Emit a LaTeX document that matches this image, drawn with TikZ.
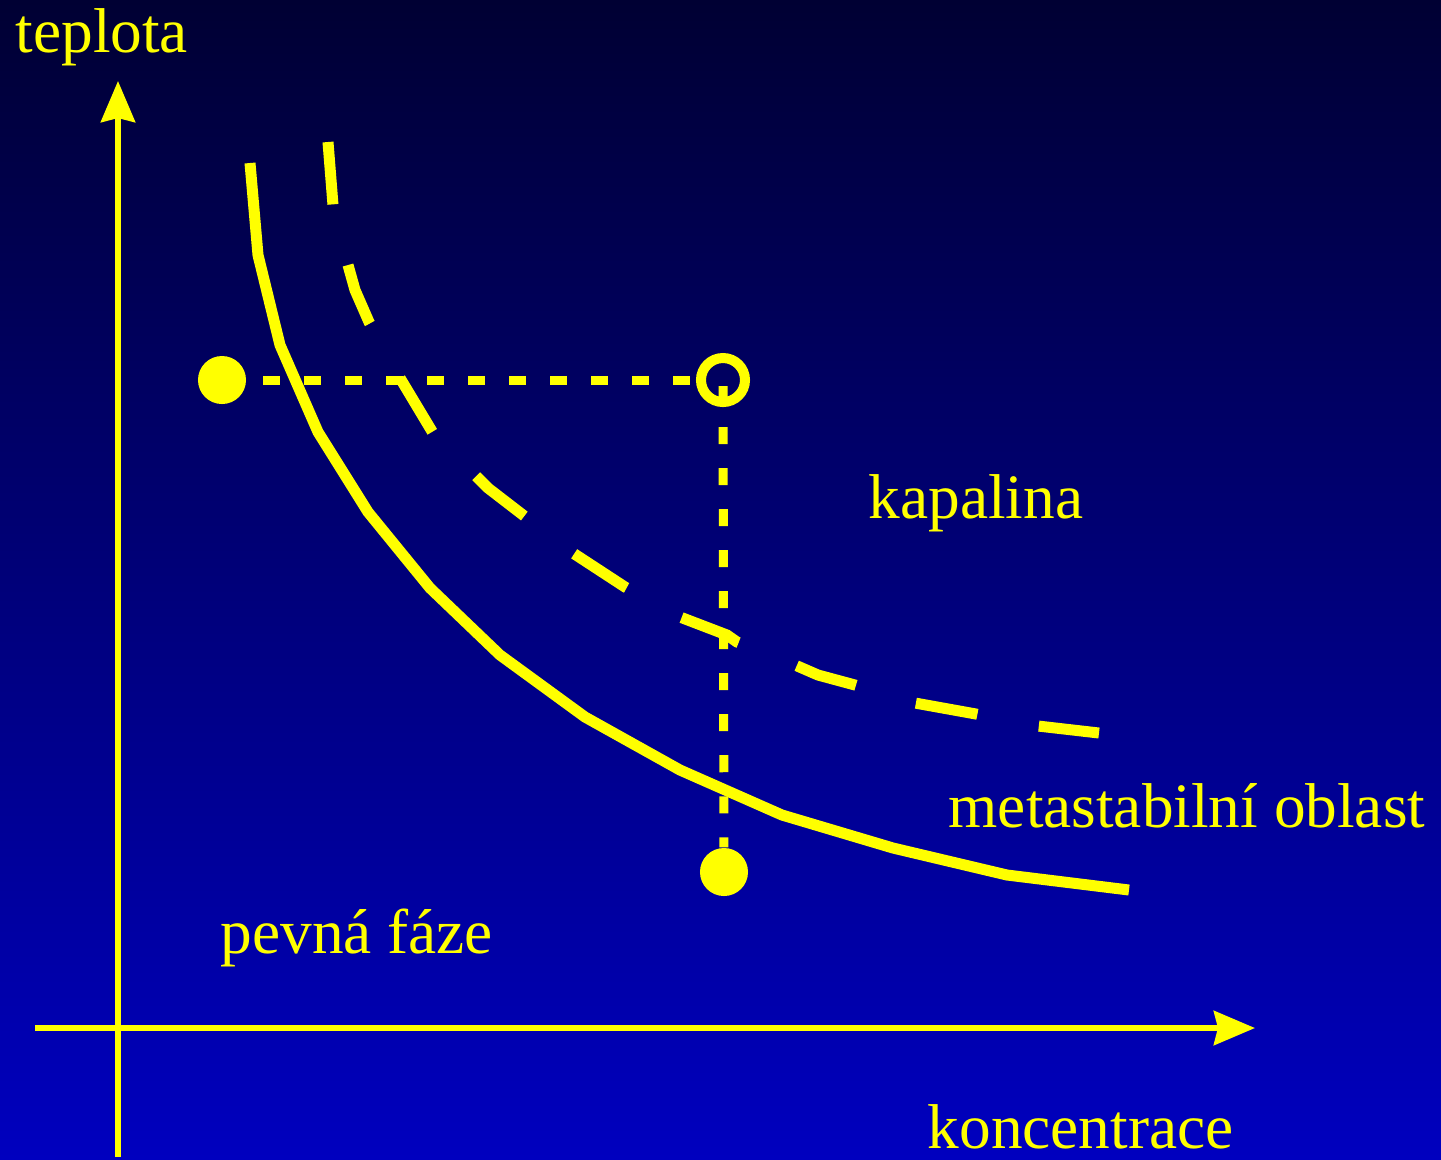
\documentclass[tikz,border=0pt]{standalone}
\usepackage{fontspec}
\setmainfont{Liberation Serif}
\usetikzlibrary{arrows.meta}
\definecolor{bgtop}{RGB}{0,0,51}
\definecolor{bgbot}{RGB}{0,0,191}
\definecolor{ylw}{RGB}{255,255,0}

\begin{document}
\begin{tikzpicture}[x=0.01cm,y=-0.01cm,
  axis/.style={ylw,line width=0.06cm,-{Stealth[length=0.41cm,width=0.34cm,inset=0.04cm]}},
  curve/.style={ylw,line width=0.11cm,line join=round},
  metacurve/.style={curve,line join=miter,dash pattern=on 0.625cm off 0.625cm},
  dotline/.style={ylw,line width=0.09cm,dash pattern=on 0.17cm off 0.24cm},
  dot/.style={circle,fill=ylw,minimum size=0.48cm,inner sep=0pt},
  opendot/.style={circle,draw=ylw,line width=0.1cm,minimum size=0.44cm,inner sep=0pt},
  lbl/.style={ylw,inner sep=0pt,anchor=base west,font=\fontsize{18}{22}\selectfont}]
  \useasboundingbox (0,0) rectangle (1441,1159);
  \shade[top color=bgtop,bottom color=bgbot] (0,0) rectangle (1441,1159);

  % axes
  \coordinate (ybot) at (118,1157);
  \coordinate (ytop) at (118,81);
  \coordinate (xleft) at (35,1028);
  \coordinate (xright) at (1255,1028);
  \draw[axis] (ybot) -- (ytop);
  \draw[axis] (xleft) -- (xright);

  % solubility curve
  \draw[curve] (250,163) -- (258,255) -- (280,345) -- (318,432) -- (368,512)
    -- (430,588) -- (500,655) -- (585,717) -- (680,770) -- (782,815)
    -- (893,848) -- (1007,875) -- (1129,890);

  % boundary of the metastable region
  \draw[metacurve] (328,142) -- (333,205) -- (348,265) -- (355,290) -- (369,322)
    -- (400,378) -- (433,433) -- (475,475) -- (488,488) -- (523,515)
    -- (573,553) -- (625,587) -- (680,617) -- (727,635) -- (737,642)
    -- (795,665) -- (818,675) -- (855,685) -- (915,703) -- (976,714)
    -- (1038,726) -- (1099,733);

  % states
  \node[dot] (start) at (222,380) {};
  \node[opendot] (meta) at (723,380) {};
  \node[dot] (end) at (724,872) {};
  \draw[dotline] (start.center) -- (meta.west);
  \draw[dotline,dash phase=0.35cm] (meta.center) -- (end);

  % labels
  \node[lbl] (tlabel) at (15,52) {teplota};
  \node[lbl] (kapalina) at (868,518) {kapalina};
  \node[lbl] (metalabel) at (948,827) {metastabilní oblast};
  \node[lbl] (pevna) at (220,953) {pevná fáze};
  \node[lbl] (clabel) at (927,1148) {koncentrace};
\end{tikzpicture}
\end{document}
